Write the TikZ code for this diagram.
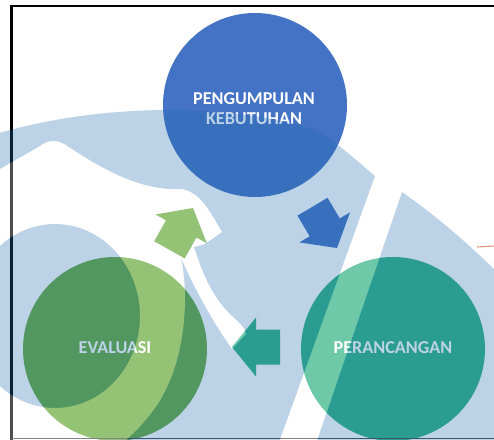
\documentclass[tikz,border=0pt]{standalone}
\usepackage{fontspec}
\setmainfont{Carlito}
\definecolor{bluecirc}{RGB}{68,114,196}
\definecolor{greencirc}{RGB}{104,170,60}
\definecolor{tealcirc}{RGB}{48,178,131}
\definecolor{wmblue}{RGB}{32,108,178}
\definecolor{wmline}{RGB}{226,150,130}
\def\wmWout{(-40,192) -- (40,146) .. controls (48,140) and (56,139) .. (66,145)
  .. controls (100,168) and (140,191) .. (180,189)
  .. controls (200,190) and (212,215) .. (222,232) -- (205,244) -- (194,247)
  .. controls (203,275) and (213,298) .. (232,316)
  .. controls (240,323) and (245,328) .. (246,334) -- (232,349)
  .. controls (215,325) and (196,292) .. (181,258)
  .. controls (190,300) and (185,370) .. (152,412)
  .. controls (135,435) and (110,455) .. (90,465) -- (-40,465) -- cycle}
\def\wmDisc{(55,316) ellipse [x radius=63.75pt, y radius=69pt]}
\begin{document}
\begin{tikzpicture}[x=0.75pt,y=-0.75pt,
  stage/.style={circle, inner sep=0pt, minimum size=138pt, draw=none},
  lbl/.style={text=white, font=\bfseries\fontsize{13.6}{15}\selectfont, align=center, inner sep=0pt},
  wm/.style={fill=wmblue, fill opacity=0.3, even odd rule},
  wmwhite/.style={fill=white, fill opacity=0.3, even odd rule}]
\useasboundingbox (0,0) rectangle (494,440);
\fill[white] (0,0) rectangle (494,440);
% stages
\node[stage, fill=bluecirc] (pk) at (255,105) {};
\node[stage, fill=greencirc] (ev) at (115,349) {};
\node[stage, fill=tealcirc] (pr) at (393,349) {};
% block arrows
\fill[bluecirc, shift={(337,248)}, rotate=-59.3]
  (0,0) -- (-24,29.5) -- (-24,17.5) -- (-48,17.5) -- (-48,-17.5) -- (-24,-17.5) -- (-24,-29.5) -- cycle;
\fill[greencirc, shift={(193,208)}, rotate=60.6]
  (0,0) -- (-24,29.5) -- (-24,17.5) -- (-48,17.5) -- (-48,-17.5) -- (-24,-17.5) -- (-24,-29.5) -- cycle;
\fill[tealcirc, shift={(232,347)}, rotate=180]
  (0,0) -- (-24,29.5) -- (-24,17.5) -- (-48,17.5) -- (-48,-17.5) -- (-24,-17.5) -- (-24,-29.5) -- cycle;
% labels
\node[lbl] (pkt) at (254,109) {PENGUMPULAN\\KEBUTUHAN};
\node[lbl] (evt) at (115,348) {EVALUASI};
\node[lbl] (prt) at (393,348) {PERANCANGAN};
% frame
\draw[black, line width=2.2pt] (11.5,440) -- (11.5,6) -- (494,6);
\draw[black!70, line width=1.1pt] (11.5,438.5) -- (494,438.5);
% watermark
\fill[wm] (-50,150) .. controls (60,105) and (200,100) .. (300,125)
  .. controls (325,131) and (350,155) .. (375,176) -- (269,470) -- (-50,470) -- cycle
  (402,192) .. controls (435,215) and (470,245) .. (500,275) -- (500,470) -- (307,470) -- cycle
  \wmWout \wmDisc;
\fill[wmwhite] \wmWout \wmDisc (381,160) -- (413,160) -- (307,470) -- (269,470) -- cycle;
\draw[wmline, line width=0.8pt] (477,247) -- (494,246);
\end{tikzpicture}
\end{document}
